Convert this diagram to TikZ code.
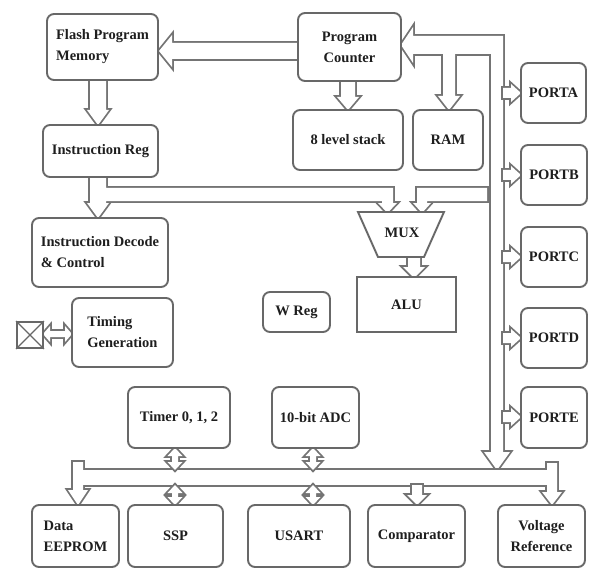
\documentclass[tikz,border=0pt]{standalone}
\usepackage{fontspec}
\setmainfont{Liberation Serif}
\usetikzlibrary{calc}
\definecolor{boxgray}{HTML}{686868}
\definecolor{argray}{HTML}{747474}
\definecolor{ink}{HTML}{1E1E1E}
\tikzset{
  box/.style={draw=boxgray, line width=1.9pt, rounded corners=7pt, fill=white,
    text=ink, font=\bfseries\fontsize{14.5}{21}\selectfont, inner sep=0pt, align=center},
  sqbox/.style={box, rounded corners=0pt},
  aline/.style={draw=argray, line width=3.6pt, line join=miter},
  plain/.style={draw=boxgray, line width=1.9pt},
}
% [opts]{x1}{y1}{x2}{y2}{name}{text}
\newcommand\bx[7][]{\node[box,minimum width={#4-#2},minimum height={#5-#3},#1] (#6) at ({(#2+#4)/2},{(#3+#5)/2}) {#7};}
\newcommand\hollow[1]{\draw[aline] #1; \fill[white] #1;}
\newcommand\hollowtwo[2]{\draw[aline] #1; \draw[aline] #2; \fill[white] #1; \fill[white] #2;}
\newcommand\hollowthree[3]{\draw[aline] #1; \draw[aline] #2; \draw[aline] #3; \fill[white] #1; \fill[white] #2; \fill[white] #3;}
\begin{document}
\begin{tikzpicture}[x=1pt,y=-1pt]
\useasboundingbox (0,0) rectangle (593,569);
\fill[white] (0,0) rectangle (593,569);

% ---------- hollow arrows and buses ----------
% main bus: into Program Counter and down the right side, with branch to RAM
\hollowtwo{(401,45) -- (413,27) -- (413,36) -- (503,36) -- (503,452) -- (510,452) -- (497,470) -- (484,452) -- (491,452) -- (491,54) -- (413,54) -- (413,63) -- cycle}
          {(443,50) -- (443,96) -- (438,96) -- (449,110) -- (460,96) -- (455,96) -- (455,50) -- cycle}
% PC -> Flash
\hollow{(302,43) -- (172,43) -- (172,35) -- (159,51) -- (172,67) -- (172,59) -- (302,59) -- cycle}
% PC -> stack
\hollow{(341,78) -- (341,97) -- (337,97) -- (348,110) -- (359,97) -- (355,97) -- (355,78) -- cycle}
% Flash -> IR
\hollow{(90,78) -- (90,110) -- (87,110) -- (98,125) -- (109,110) -- (106,110) -- (106,78) -- cycle}
% IR -> Decode, and bus to MUX left input
\hollow{(90,175) -- (90,203) -- (87,203) -- (98,218) -- (109,203) -- (106,203) -- (106,201) -- (382,201) -- (382,203) -- (378,203) -- (387.5,213) -- (397,203) -- (393,203) -- (393,188) -- (106,188) -- (106,175) -- cycle}
% bus to MUX right input
\hollow{(487,188) -- (417,188) -- (417,203) -- (413,203) -- (422,213) -- (431,203) -- (427,203) -- (427,201) -- (487,201) -- cycle}
% MUX -> ALU
\hollow{(408,255) -- (408,267) -- (403,267) -- (414,278) -- (425,267) -- (420,267) -- (420,255) -- cycle}
% bottom bus with EEPROM and Voltage Reference branches
\hollowthree{(80,470) -- (550,470) -- (550,485) -- (80,485) -- cycle}
  {(73,462) -- (73,490) -- (68,490) -- (78,505) -- (88,490) -- (83,490) -- (83,462) -- cycle}
  {(547,463) -- (547,492) -- (542,492) -- (552,505) -- (562,492) -- (557,492) -- (557,463) -- cycle}
% comparator
\hollow{(412,485) -- (412,495) -- (407,495) -- (417,505) -- (427,495) -- (422,495) -- (422,485) -- cycle}
% double arrows: Timer/SSP/ADC/USART
\foreach \cx in {175,313}{
  \hollow{(\cx,448) -- (\cx+7.5,456) -- (\cx+3,456) -- (\cx+3,462) -- (\cx+7.5,462) -- (\cx,470) -- (\cx-7.5,462) -- (\cx-3,462) -- (\cx-3,456) -- (\cx-7.5,456) -- cycle}
  \hollow{(\cx,485) -- (\cx+7.5,493) -- (\cx+3,493) -- (\cx+3,497) -- (\cx+7.5,497) -- (\cx,505) -- (\cx-7.5,497) -- (\cx-3,497) -- (\cx-3,493) -- (\cx-7.5,493) -- cycle}
}
% port arrows
\foreach \cy in {93,175,257,338,417}{
  \hollow{(503,\cy-5) -- (511,\cy-5) -- (511,\cy-9) -- (521,\cy) -- (511,\cy+9) -- (511,\cy+5) -- (503,\cy+5) -- cycle}
}
% crystal <-> timing
\hollow{(43,334) -- (50,326) -- (50,331) -- (65,331) -- (65,326) -- (72,334) -- (65,342) -- (65,337) -- (50,337) -- (50,342) -- cycle}

% ---------- blocks ----------
\bx[align=left]{47}{14}{158}{80}{fpm}{Flash Program\\Memory}
\bx{298}{13}{401}{81}{pc}{Program\\Counter}
\bx{293}{110}{403}{170}{stack}{8 level stack}
\bx{413}{110}{483}{170}{ram}{RAM}
\bx{521}{63}{586}{123}{porta}{PORTA}
\bx{521}{145}{587}{205}{portb}{PORTB}
\bx{521}{227}{587}{287}{portc}{PORTC}
\bx{521}{308}{587}{368}{portd}{PORTD}
\bx{521}{387}{587}{448}{porte}{PORTE}
\bx{43}{125}{158}{177}{ir}{Instruction Reg}
\bx[align=left]{32}{218}{168}{287}{idc}{Instruction Decode\\\& Control}
\bx[align=left]{72}{298}{173}{367}{tg}{Timing\\Generation}
\bx{263}{292}{330}{332}{wreg}{W Reg}
\bx[sqbox]{357}{277}{456}{332}{alu}{ALU}
\bx{128}{387}{230}{448}{timer}{Timer 0, 1, 2}
\bx{272}{387}{359}{448}{adc}{10-bit ADC}
\bx[align=left]{32}{505}{119}{567}{eeprom}{Data\\EEPROM}
\bx{128}{505}{223}{567}{ssp}{SSP}
\bx{248}{505}{350}{567}{usart}{USART}
\bx{368}{505}{465}{567}{comp}{Comparator}
\bx{498}{505}{585}{567}{vref}{Voltage\\Reference}

% MUX trapezoid
\draw[plain, fill=white] (358,212) -- (444,212) -- (424,257) -- (378,257) -- cycle;
\node[text=ink, font=\bfseries\fontsize{14.5}{21}\selectfont] (mux) at (402,233) {MUX};

% crystal
\node[sqbox, minimum width=26, minimum height=26] (xtal) at (30,335) {};
\draw[plain, line width=1.4pt] (xtal.north west) -- (xtal.south east) (xtal.north east) -- (xtal.south west);
\end{tikzpicture}
\end{document}
